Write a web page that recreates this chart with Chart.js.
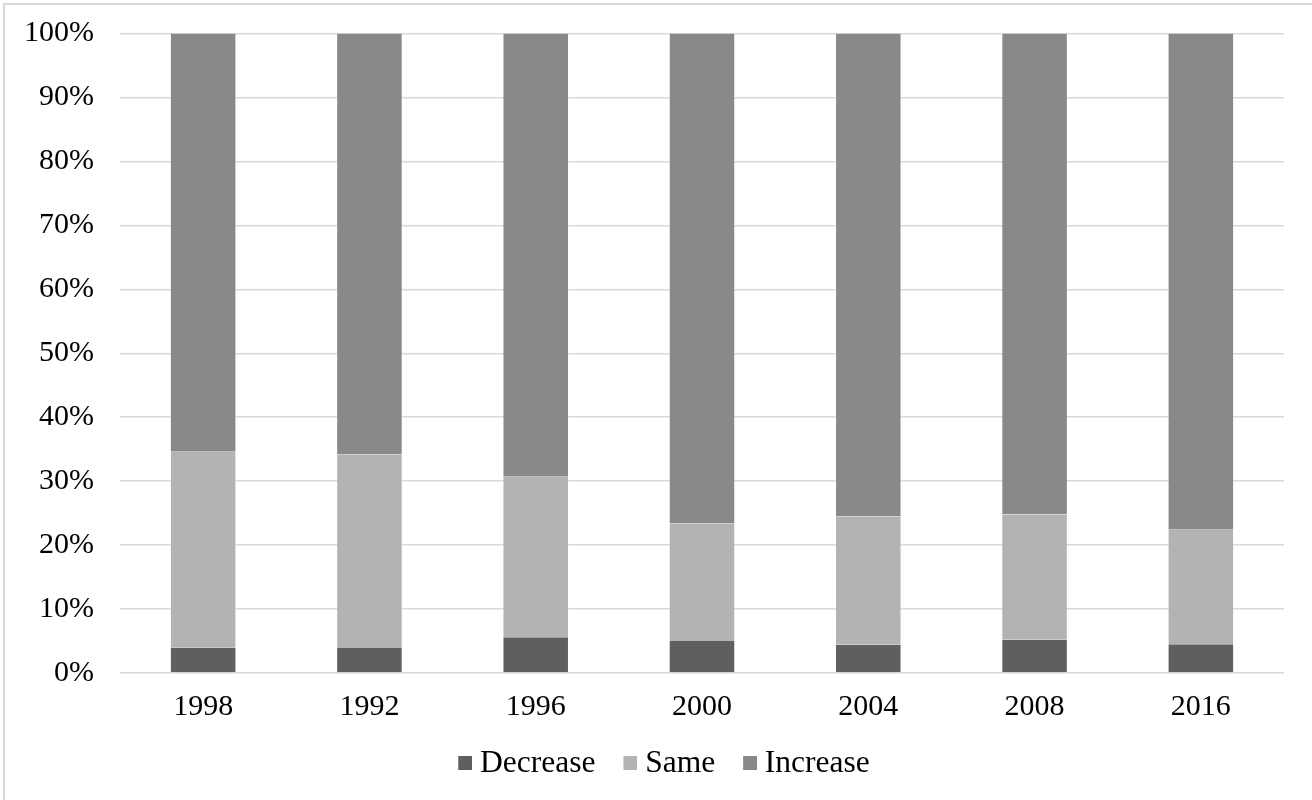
<!DOCTYPE html>
<html>
<head>
<meta charset="utf-8">
<script src="https://cdn.jsdelivr.net/npm/chart.js@4/dist/chart.umd.min.js"></script>
<style>
  html, body { margin: 0; padding: 0; background: #ffffff; }
  #stage { position: relative; width: 1312px; height: 800px; overflow: hidden; }
  #edge {
    position: absolute; left: 3px; top: 3px; width: 1400px; height: 900px;
    border-left: 2px solid #d9d9d9; border-top: 2px solid #d9d9d9;
  }
  canvas { position: absolute; left: 0; top: 0; display: block; }
</style>
</head>
<body>
<div id="stage"><div id="edge"></div><canvas id="c" width="1312" height="800"></canvas></div>
<script>
// Survey years (as labelled on the axis)
const years = ['1998', '1992', '1996', '2000', '2004', '2008', '2016'];

// Share of responses per year, in percent
const decrease = [4.0, 3.9, 5.6, 5.0, 4.4, 5.2, 4.5];
const same     = [30.6, 30.3, 25.1, 18.4, 20.1, 19.6, 17.9];
const increase = [65.4, 65.8, 69.3, 76.6, 75.5, 75.2, 77.6];

const seriesNames = ['Decrease', 'Same', 'Increase'];
const seriesColors = ['#5f5f5f', '#b3b3b3', '#898989'];
const percentTicks = [0, 10, 20, 30, 40, 50, 60, 70, 80, 90, 100];

const serif = "'Liberation Serif', 'Times New Roman', serif";
Chart.defaults.font.family = serif;
Chart.defaults.color = '#000000';

// Legend swatch: a 14px square sitting at the right end of a wider
// transparent tile, so the label text hugs the square.
function swatch(color) {
  const cv = document.createElement('canvas');
  cv.width = 30; cv.height = 14;
  const g = cv.getContext('2d');
  g.fillStyle = color;
  g.fillRect(16, 0, 14, 14);
  return cv;
}
const swatches = seriesColors.map(swatch);

// Nudge the legend block after layout (slightly right of centre, a bit higher).
const legendOffset = {
  id: 'legendOffset',
  afterLayout(chart) {
    const l = chart.legend;
    if (!l) return;
    l.left += 18; l.right += 18;
    l.top -= 13.5; l.bottom -= 13.5;
  }
};

const ds = (i, data) => ({
  label: seriesNames[i], data,
  backgroundColor: seriesColors[i],
  borderColor: 'rgba(255,255,255,0.25)',
  borderWidth: { left: 1, right: 1, top: 0, bottom: 0 },
  borderSkipped: false,
  categoryPercentage: 0.8,
  barPercentage: 0.5
});

new Chart(document.getElementById('c'), {
  type: 'bar',
  data: {
    labels: years,
    datasets: [ds(0, decrease), ds(1, same), ds(2, increase)]
  },
  plugins: [legendOffset],
  options: {
    responsive: false,
    animation: false,
    layout: { padding: { left: 0, right: 28, top: 33.5, bottom: -2.5 } },
    plugins: {
      tooltip: { enabled: false },
      legend: {
        position: 'bottom',
        labels: {
          usePointStyle: true,
          boxWidth: 14, boxHeight: 14,
          padding: 20,
          font: { size: 31.5 },
          color: '#000000',
          generateLabels: (chart) => {
            const items = Chart.defaults.plugins.legend.labels.generateLabels(chart);
            items.forEach((it, i) => { it.pointStyle = swatches[i]; });
            return items;
          }
        }
      }
    },
    scales: {
      x: {
        stacked: true,
        grid: { display: false, drawTicks: false },
        border: { display: false },
        ticks: { font: { size: 30 }, color: '#000000', padding: 16 }
      },
      y: {
        stacked: true,
        min: 0, max: 100,
        afterBuildTicks: (s) => { s.ticks = percentTicks.map(v => ({ value: v })); },
        afterFit: (s) => { s.width = 120; s.paddingTop = 0; s.paddingBottom = 0; },
        grid: { color: '#d9d9d9', lineWidth: 1.5, drawTicks: false },
        border: { display: false },
        ticks: {
          font: { size: 30 }, color: '#000000', padding: 26,
          callback: (v) => v + '%'
        }
      }
    }
  }
});
</script>
</body>
</html>
